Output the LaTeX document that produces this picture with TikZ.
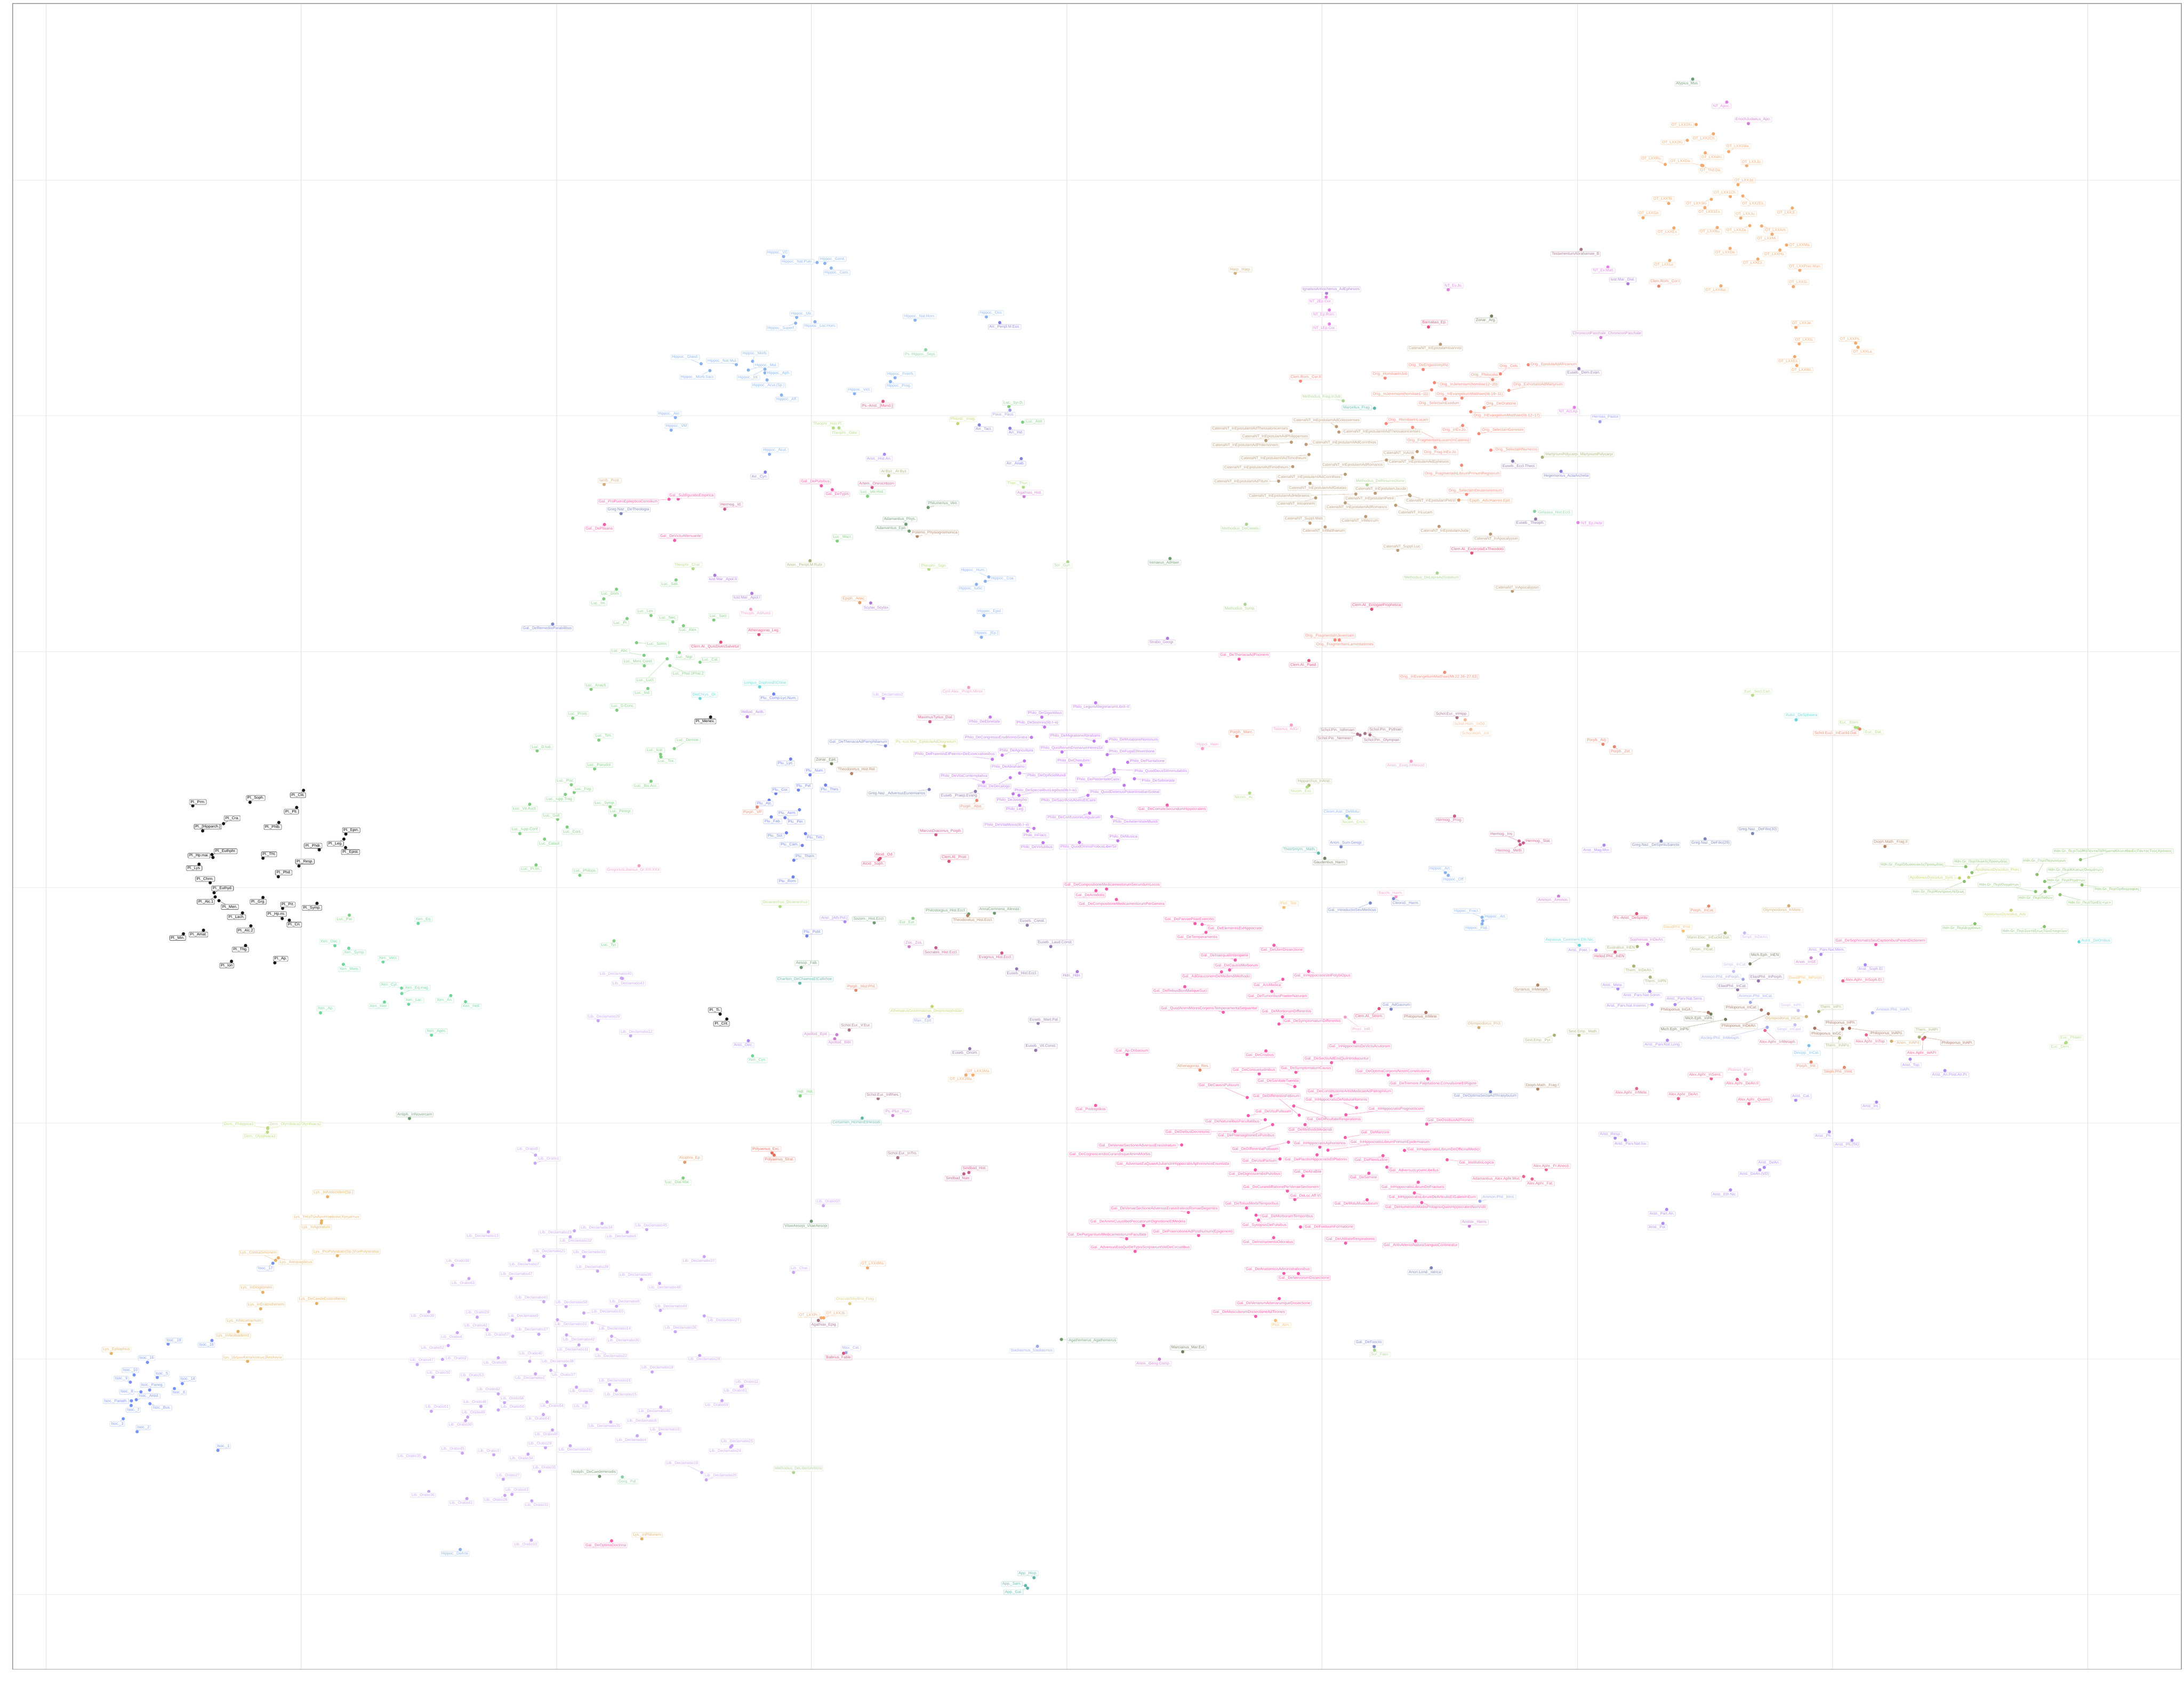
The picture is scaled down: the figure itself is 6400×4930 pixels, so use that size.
\documentclass[tikz,border=0pt]{standalone}
\usepackage{fontspec}
\setmainfont{Liberation Sans}
\newfontfamily\grk{DejaVu Sans}[Scale=0.88]
\newcommand\lblfont{\fontsize{2.8pt}{3pt}\selectfont}
\pgfdeclarelayer{bg}
\pgfsetlayers{bg,main}
% point colours
\definecolor{pl}{RGB}{0,0,0}
\definecolor{hip}{RGB}{125,170,235}
\definecolor{luc}{RGB}{115,200,115}
\definecolor{xen}{RGB}{95,210,145}
\definecolor{gal}{RGB}{240,75,160}
\definecolor{gals}{RGB}{110,125,200}
\definecolor{orig}{RGB}{240,125,105}
\definecolor{cat}{RGB}{180,145,105}
\definecolor{lxx}{RGB}{240,160,95}
\definecolor{nt}{RGB}{225,115,230}
\definecolor{philo}{RGB}{185,105,235}
\definecolor{plu}{RGB}{95,115,230}
\definecolor{lib}{RGB}{195,155,240}
\definecolor{isoc}{RGB}{105,135,245}
\definecolor{lys}{RGB}{225,170,85}
\definecolor{hdn}{RGB}{125,185,95}
\definecolor{apol}{RGB}{195,205,100}
\definecolor{arist}{RGB}{165,125,240}
\definecolor{alex}{RGB}{230,85,135}
\definecolor{philop}{RGB}{160,100,80}
\definecolor{olv}{RGB}{160,170,105}
\definecolor{dolv}{RGB}{100,115,80}
\definecolor{simp}{RGB}{195,180,245}
\definecolor{amm}{RGB}{150,160,230}
\definecolor{elias}{RGB}{135,100,160}
\definecolor{euseb}{RGB}{135,105,165}
\definecolor{tan}{RGB}{205,165,105}
\definecolor{gold}{RGB}{245,185,100}
\definecolor{salm}{RGB}{225,125,95}
\definecolor{crim}{RGB}{215,65,105}
\definecolor{dpink}{RGB}{195,75,130}
\definecolor{lpink}{RGB}{240,150,195}
\definecolor{mauve}{RGB}{160,100,125}
\definecolor{peach}{RGB}{245,180,140}
\definecolor{lgrn}{RGB}{165,205,135}
\definecolor{lime}{RGB}{170,215,120}
\definecolor{cyan}{RGB}{90,210,210}
\definecolor{teal}{RGB}{80,175,160}
\definecolor{dgrn}{RGB}{95,145,100}
\definecolor{brown}{RGB}{170,120,85}
\definecolor{purp}{RGB}{165,110,210}
\definecolor{greg}{RGB}{110,120,175}
\definecolor{arr}{RGB}{120,115,215}
\definecolor{mag}{RGB}{200,115,205}
\definecolor{sky}{RGB}{110,185,235}
\definecolor{yel}{RGB}{215,200,120}
\definecolor{red}{RGB}{225,95,75}
\definecolor{ora}{RGB}{225,145,90}
\definecolor{paus}{RGB}{145,145,235}
\definecolor{mint}{RGB}{125,205,155}
\definecolor{dem}{RGB}{180,215,110}
\tikzset{every picture/.style={line width=0.3pt},
  lbl/.style={draw=#1!55!white, text=#1!85!white, fill=white, rounded corners=0.5pt,
    line width=0.15pt, inner xsep=0.8pt, inner ysep=0.5pt, text height=2.1pt,
    text depth=0.55pt, font=\lblfont},
  dot/.style={circle, fill=#1!90!white, draw=none, minimum size=2.4pt, inner sep=0pt},
  seg/.style={draw=#1!65!white, line width=0.2pt},
  gridv/.style={draw=black!14, line width=0.3pt},
  gridh/.style={draw=black!9, line width=0.3pt},
  frame/.style={draw=black!38, line width=0.5pt}
}
% one labelled point per entry: dot x/dot y/label x/label y/colour/text
\newcommand\drawpts[3][]{%
  \foreach \dx/\dy/\lx/\ly/\c/\t [count=\k] in #3 {
    \node[dot=\c] (#2d\k) at (\dx,\dy) {};
    \node[lbl=\c,#1] (#2l\k) at (\lx,\ly) {\t};}
  \begin{pgfonlayer}{bg}
  \foreach \dx/\dy/\lx/\ly/\c/\t [count=\k] in #3 {\draw[seg=\c] (#2d\k) -- (#2l\k);}
  \end{pgfonlayer}}
\begin{document}
\begin{tikzpicture}[x=0.25pt,y=-0.25pt]
\useasboundingbox (0,0) rectangle (6400,4930);
%grid and panel
\foreach \gx in {135,883,1631,2378,3126,3874,4622,5370,6118} \draw[gridv] (\gx,10) -- (\gx,4890);
\foreach \gy in {528,1218,1909,2600,3290,3981,4671} \draw[gridh] (37,\gy) -- (6392,\gy);
\draw[frame] (37,10) rectangle (6392,4890);

%Plato cluster
\def\plato{
208/271/245/244/pl/{Pl.\_Prm.}, 619/246/660/215/pl/{Pl.\_Soph.}, 1003/160/963/195/pl/{Pl.\_Clit.},
954/283/916/313/pl/{Pl.\_Plt.}, 429/399/491/360/pl/{Pl.\_Cra.}, 279/451/316/421/pl/{Pl.\_[Hipparch.]},
826/391/782/424/pl/{Pl.\_Phlb.}, 1307/474/1346/446/pl/{Pl.\_Epin.}, 1293/510/1232/544/pl/{Pl.\_Leg.},
1305/571/1341/603/pl/{Pl.\_Epist.}, 1116/587/1072/558/pl/{Pl.\_Phdr.}, 346/621/444/597/pl/{Pl.\_Euthphr.},
353/642/253/629/pl/{Pl.\_Hp.mai.}, 712/647/756/619/pl/{Pl.\_Tht.}, 253/690/218/719/pl/{Pl.\_Lys.},
970/703/1013/671/pl/{Pl.\_Resp.}, 822/780/861/751/pl/{Pl.\_Phd.}, 333/823/297/796/pl/{Pl.\_Chrm.},
361/895/422/864/pl/{Pl.\_Euthyd.}, 369/925/302/960/pl/{Pl.\_Alc.1}, 396/952/474/997/pl/{Pl.\_Men.},
712/929/678/960/pl/{Pl.\_Grg.}, 853/1007/891/980/pl/{Pl.\_Prt.}, 1100/971/1064/1004/pl/{Pl.\_Symp.},
565/1040/522/1070/pl/{Pl.\_Lach.}, 850/1080/809/1048/pl/{Pl.\_Hp.mi.}, 901/1092/937/1124/pl/{Pl.\_Cri.},
625/1133/587/1166/pl/{Pl.\_Alc.2}, 285/1164/249/1195/pl/{Pl.\_Amat.}, 141/1190/100/1220/pl/{Pl.\_Min.},
587/1274/550/1303/pl/{Pl.\_Thg.}, 797/1398/839/1369/pl/{Pl.\_Ap.}, 486/1387/452/1418/pl/{Pl.\_Ion}}
\begin{scope}[shift={(480,2250)},xscale=0.40816,yscale=0.40816]
\drawpts[draw=black!75,text=black,line width=0.22pt]{z1}{\plato}
\end{scope}

%Xenophon, Lysias, Isocrates
\def\xenlys{
983/58/967/70/luc/{Luc.\_Par.}, 1236/81/1256/69/xen/{Xen.\_Eq.}, 930/143/910/132/xen/{Xen.\_Oec.},
981/150/1002/162/xen/{Xen.\_Symp.}, 1107/188/1126/178/xen/{Xen.\_Vect.}, 961/195/983/208/xen/{Xen.\_Mem.},
1175/261/1130/252/xen/{Xen.\_Cyr.}, 1176/276/1232/260/xen/{Xen.\_Eq.mag.}, 1201/306/1221/295/xen/{Xen.\_Lac.},
1356/282/1334/295/xen/{Xen.\_An.}, 1112/300/1091/311/xen/{Xen.\_Hier.}, 1410/299/1432/312/xen/{Xen.\_Hell.},
877/330/896/318/xen/{Xen.\_Ap.}, 1285/392/1304/381/xen/{Xen.\_Ages.}, 1204/624/1223/613/dgrn/{Antiph.\_InNovercam},
683/650/577/640/dem/{Dem.\_Philippica1}, 683/652/785/640/dem/{Dem.\_Olynthiaca1Olynthiaca2}, 682/662/654/674/dem/{Dem.\_Olynthiaca3},
903/842/925/830/lys/{Lys.\_InAndocidem[Sp.]}, 880/915/860/927/lys/{Lys.\_InAgoratum},
712/1019/649/998/lys/{Lys.\_ContraSimonem}, 722/1012/787/1024/lys/{Lys.\_Areopagiticus},
939/1006/972/995/lys/{Lys.\_ProPolystrato[Sp.]\textbackslash ForPolystratus}, 665/1108/642/1095/lys/{Lys.\_InDiogitonem},
657/1154/677/1142/lys/{Lys.\_InEratosthenem}, 863/1139/883/1127/lys/{Lys.\_DeCaedeEratosthenis},
615/1197/597/1187/lys/{Lys.\_InNicomachum}, 574/1217/555/1229/lys/{Lys.\_InAlcibiadem1},
108/1278/127/1267/lys/{Lys.\_Epitaphius},
702/1027/675/1042/isoc/{Isoc.\_17}, 317/1252/338/1242/isoc/{Isoc.\_19}, 478/1242/458/1254/isoc/{Isoc.\_18},
241/1303/238/1291/isoc/{Isoc.\_16}, 192/1338/178/1325/isoc/{Isoc.\_10}, 277/1345/294/1334/isoc/{Isoc.\_5},
178/1358/145/1348/isoc/{Isoc.\_9}, 369/1362/389/1349/isoc/{Isoc.\_14}, 249/1380/259/1366/isoc/{Isoc.\_Paneg.},
217/1385/165/1385/isoc/{Isoc.\_8}, 340/1376/357/1387/isoc/{Isoc.\_6}, 200/1407/247/1397/isoc/{Isoc.\_Antid.},
182/1410/125/1411/isoc/{Isoc.\_Panath.}, 181/1423/189/1435/isoc/{Isoc.\_7}, 250/1418/294/1430/isoc/{Isoc.\_Bus.},
152/1460/130/1474/isoc/{Isoc.\_3}, 203/1496/226/1484/isoc/{Isoc.\_2}, 500/1548/520/1536/isoc/{Isoc.\_1}}
\def\lysgrk{
881/909/900/898/lys/{Lys.\_ὙπὲρΤῶνἈριστοφάνουςΧρημάτων}, 609/1300/628/1289/lys/{Lys.\_[ΔήμουΚαταλύσεως]Ἀπολογία}}
\begin{scope}[shift={(240,2620)},xscale=0.7972,yscale=1.0523]
\drawpts{z12}{\xenlys}
\drawpts[font=\lblfont\grk]{z12g}{\lysgrk}
\end{scope}

%Hippocrates, Lucian (upper left)
\def\hippo{
790/64/773/50/hip/{Hippoc.\_VC}, 885/86/829/83/hip/{Hippoc.\_Nat.Puer.}, 907/89/929/73/hip/{Hippoc.\_Genit.},
925/106/941/123/hip/{Hippoc.\_Carn.}, 827/286/842/272/hip/{Hippoc.\_Ulc.}, 824/307/783/325/hip/{Hippoc.\_Superf.},
879/302/894/318/hip/{Hippoc.\_Loc.Hom.}, 1163/296/1176/282/hip/{Hippoc.\_Nat.Hom.}, 1365/284/1379/270/hip/{Hippoc.\_Oss.},
1403/305/1417/321/arr/{Arr.\_Peripl.M.Eux.}, 1193/404/1178/420/mint/{Ps.-Hippoc.\_Sept.}, 556/455/511/431/hip/{Hippoc.\_Gland.},
656/458/616/444/hip/{Hippoc.\_Nat.Mul.}, 702/446/709/418/hip/{Hippoc.\_Morb.}, 690/478/740/460/hip/{Hippoc.\_Mul.},
581/480/546/503/hip/{Hippoc.\_Morb.Sacr.}, 737/488/776/490/hip/{Hippoc.\_Aph.}, 737/475/690/505/hip/{Hippoc.\_Int.},
743/514/747/534/hip/{Hippoc.\_Acut.(Sp.)}, 784/569/799/585/hip/{Hippoc.\_Aff.}, 1106/506/1122/492/hip/{Hippoc.\_Prorrh.},
1093/520/1117/536/hip/{Hippoc.\_Prog.}, 991/564/1005/550/hip/{Hippoc.\_Vict.}, 1072/592/1056/608/crim/{Ps.-Arist.\_[Mund.]},
483/651/466/637/hip/{Hippoc.\_Aer.}, 471/697/486/682/hip/{Hippoc.\_VM}, 1429/611/1442/597/luc/{Luc.\_Syr.D.},
1432/624/1414/641/paus/{Paus.\_Paus.}, 1284/673/1299/657/apol/{Philostr.\_Imag.}, 1345/678/1358/693/arr/{Arr.\_Tact.},
1468/668/1502/666/luc/{Luc.\_Astr.}, 1432/690/1449/706/arr/{Arr.\_Ind.}, 931/689/915/674/lime/{Theophr.\_Hist.Pl.},
947/689/964/707/lime/{Theophr.\_Odor.}, 750/785/766/770/hip/{Hippoc.\_Acut.}, 1076/785/1061/801/arist/{Arist.\_Hist.An.},
1464/801/1448/819/arr/{Arr.\_Anab.}, 1088/863/1104/847/olv/{Ar.Byz.\_Ar.Byz.}, 738/850/722/866/arr/{Arr.\_Cyn.},
897/900/880/884/gal/{Gal.\_DePulsibus}, 928/914/942/931/gal/{Gal.\_DeTypis}, 1041/906/1054/892/dpink/{Artem.\_Onirocriticon},
1028/938/1042/922/luc/{Luc.\_Ver.Hist.}, 1470/905/1455/891/lime/{Thuc.\_Thuc.}, 1472/939/1488/925/mag/{Agathias\_Hist.},
281/895/297/881/tan/{Iamb.\_Protr.}, 491/948/529/936/gal/{Gal.\_SubfiguratioEmpirica}, 465/949/349/958/gal/{Gal.\_ProPueroEpilepticoConsilium},
623/985/641/968/dpink/{Hermog.\_Id.}, 329/1001/350/987/greg/{Greg.Naz.\_DeTheologia}, 1200/979/1242/964/dgrn/{Philumenus\_Ven.},
1137/1040/1120/1022/dgrn/{Adamantius\_Phys.}, 1146/1065/1096/1055/dgrn/{Adamantius\_Epit.}, 1169/1084/1219/1071/brown/{Polemo\_Physiognomonica},
282/1041/267/1057/gal/{Gal.\_DePtisana}, 481/1099/498/1083/gal/{Gal.\_DeVictuAttenuante}, 942/1101/957/1087/luc/{Luc.\_Macr.},
533/1202/518/1188/lime/{Theophr.\_Char.}, 865/1173/851/1188/olv/{Anon.\_Peripl.M.Rubr.}, 1202/1204/1216/1191/lime/{Theophr.\_Sign.},
1372/1232/1328/1208/hip/{Hippoc.\_Hum.}, 1362/1248/1412/1238/hip/{Hippoc.\_Coa.}, 1337/1259/1322/1275/hip/{Hippoc.\_Iudic.},
485/1243/468/1258/luc/{Luc.\_Salt.}, 595/1226/618/1241/purp/{Iust.Mar.\_Apol.II}, 700/1292/686/1308/purp/{Iust.Mar.\_Apol.I},
316/1277/299/1294/luc/{Luc.\_Dom.}, 280/1312/265/1328/luc/{Luc.\_Im.}, 1006/1326/990/1311/ora/{Epiph.\_Anac.},
1037/1327/1052/1344/purp/{Scylax\_Scylax}, 414/1373/399/1357/luc/{Luc.\_Lex.}, 476/1396/462/1381/luc/{Luc.\_Nec.},
592/1389/606/1375/luc/{Luc.\_Sacr.}, 697/1350/712/1366/lpink/{Theoph.\_AdAutol.}, 1358/1373/1375/1357/hip/{Hippoc.\_Epid.},
135/1404/120/1420/gals/{Gal.\_DeRemediisParabilibus}, 346/1384/328/1400/luc/{Luc.\_Pr.}, 506/1410/520/1426/luc/{Luc.\_Alex.},
720/1442/734/1428/crim/{Athenagoras\_Leg.}, 1351/1452/1366/1437/hip/{Hippoc.\_[Ep.]}, 373/1472/432/1477/luc/{Luc.\_Somn.},
612/1470/596/1487/crim/{Clem.Al.\_QuisDivesSalvetur}, 394/1518/326/1503/luc/{Luc.\_Abc.}, 395/1556/378/1540/luc/{Luc.\_Merc.Cond.},
494/1508/510/1524/luc/{Luc.\_Nigr.}, 553/1543/582/1534/luc/{Luc.\_Cal.}}
\begin{scope}[shift={(1480,700)},xscale=1.0332,yscale=0.8036]
\drawpts{z4}{\hippo}
\end{scope}

%Catenae, Origen, NT (upper middle)
\def\catena{
1484/38/1468/55/mauve/{TestamentumAbrahamae\_B}, 503/125/518/111/tan/{Harp.\_Harp.}, 762/198/775/184/purp/{IgnatiusAntiochenus\_AdEphesios},
761/212/745/228/nt/{NT\_2Ep.Cor.}, 1107/185/1122/170/nt/{NT\_Ev.Jo.}, 770/259/755/276/nt/{NT\_Ep.Rom.},
770/310/756/325/nt/{NT\_1Ep.Cor.}, 1051/321/1068/305/crim/{Barnabas\_Ep.}, 1230/281/1214/297/dolv/{Zonar.\_Arg.},
1085/384/1070/399/cat/{CatenaNT\_InEpistulamIoannisI}, 1036/476/1051/461/orig/{Orig.\_DeEngastrimytho}, 1255/492/1280/463/orig/{Orig.\_Cels.},
928/507/942/493/orig/{Orig.\_HomiliaeInJob}, 1233/513/1210/495/orig/{Orig.\_Philocalia}, 688/518/703/504/orig/{Clem.Rom.\_Cor.II},
1068/524/1165/530/orig/{Orig.\_InJeremiam(homiliae12–20)}, 1279/552/1362/531/orig/{Orig.\_ExhortatioAdMartyrium},
1060/550/972/565/orig/{Orig.\_InJeremiam(homiliae1–11)}, 1146/580/1168/565/orig/{Orig.\_InEvangeliumMatthaei(lib.10–11)},
1098/583/1081/599/orig/{Orig.\_SelectaInExodum}, 1209/615/1257/600/orig/{Orig.\_DeOratione}, 809/590/748/576/lgrn/{Methodius\_Frag.InJob},
898/617/848/615/teal/{Marcellus\_Frag.}, 1171/630/1273/643/orig/{Orig.\_InEvangeliumMatthaei(lib.12–17)},
790/684/762/661/cat/{CatenaNT\_InEpistulamAdColossenses}, 931/673/994/659/orig/{Orig.\_HomiliaeInLucam},
797/704/919/703/cat/{CatenaNT\_InEpistulamIIAdThessalonicenses}, 661/700/545/692/cat/{CatenaNT\_InEpistulamIAdThessalonicenses},
590/735/616/720/cat/{CatenaNT\_InEpistulamAdPhilippenses}, 662/741/532/752/cat/{CatenaNT\_InEpistulamAdPhilemonem},
704/749/813/742/cat/{CatenaNT\_InEpistulamIIAdCorinthios}, 1006/687/1079/734/orig/{Orig.\_FragmentaInLucam(inCatenis)},
1148/680/1125/696/orig/{Orig.\_InEv.Jo.}, 1194/710/1262/696/orig/{Orig.\_SelectaInGenesim}, 1070/760/1085/777/orig/{Orig.\_Frag.InEv.Jo.},
1228/770/1300/768/orig/{Orig.\_SelectaInNumeros}, 1019/775/967/781/cat/{CatenaNT\_InActs},
712/786/612/800/cat/{CatenaNT\_InEpistulamIIAdTimotheum}, 666/830/563/833/cat/{CatenaNT\_InEpistulamIAdTimotheum},
932/806/836/823/cat/{CatenaNT\_InEpistulamAdRomanos}, 1006/797/1024/813/cat/{CatenaNT\_InEpistulamAdEphesios},
1145/825/1147/855/orig/{Orig.\_FragmentaInLibrumPrimumRegnorum}, 1290/810/1308/828/euseb/{Euseb.\_Eccl.Theol.},
1427/847/1442/864/arr/{Hegemonius\_ActaArchelai}, 815/858/713/869/cat/{CatenaNT\_InEpistulamIAdCorinthios},
626/883/520/884/cat/{CatenaNT\_InEpistulamAdTitum}, 877/896/914/882/lgrn/{Methodius\_DeResurrectione},
715/891/737/908/cat/{CatenaNT\_InEpistulamAdGalatas}, 900/927/916/912/cat/{CatenaNT\_InEpistulamJacobi},
845/930/628/937/cat/{CatenaNT\_InEpistulamAdHebraeos}, 997/933/884/947/cat/{CatenaNT\_InEpistulamPetriI},
999/936/1058/955/cat/{CatenaNT\_InEpistulamPetriII}, 1159/931/1184/917/orig/{Orig.\_SelectaInDeuteronomium},
1137/952/1226/954/ora/{Epiph.\_Adv.Haeres.Epit.}, 731/944/676/966/cat/{CatenaNT\_InIoannem},
815/962/848/978/cat/{CatenaNT\_InEpistulamAdRomanos}, 958/971/1014/998/cat/{CatenaNT\_InLucam},
1352/993/1409/997/mint/{Gelasius\_Hist.Eccl.}, 1355/1021/1340/1036/euseb/{Euseb.\_Theoph.}, 1475/1034/1515/1037/nt/{NT\_Ep.Hebr},
715/1036/699/1020/cat/{CatenaNT\_Suppl.Matt.}, 873/1012/857/1028/cat/{CatenaNT\_InMarcum}, 535/1040/518/1056/lgrn/{Methodius\_DeCreatis},
758/1050/754/1065/cat/{CatenaNT\_InMatthaeum}, 1081/1048/1097/1065/cat/{CatenaNT\_InEpistulamJuda},
1227/1076/1243/1093/cat/{CatenaNT\_InApocalypsin}, 964/1135/977/1121/cat/{CatenaNT\_Suppl.Luc.},
1174/1145/1190/1131/crim/{Clem.Al.\_ExcerptaExTheodoto}, 318/1165/303/1180/dgrn/{Irenaeus\_AdHaer.},
1076/1218/1060/1234/lgrn/{Methodius\_DeLepraAdSistelium}, 1289/1284/1303/1271/cat/{CatenaNT\_InApocalypsin},
531/1332/517/1348/lgrn/{Methodius\_Symp.}, 890/1350/904/1335/crim/{Clem.Al.\_EclogaeProphetica}, 311/1456/295/1471/purp/{Strabo\_Geogr.},
786/1462/771/1446/orig/{Orig.\_FragmentaInJeremiam}, 798/1462/814/1479/orig/{Orig.\_FragmentaInLamentationes},
514/1532/529/1517/gal/{Gal.\_DeTheriacaAdPisonem}, 712/1537/697/1553/crim/{Clem.Al.\_Paed.}}
\begin{scope}[shift={(3100,700)},xscale=1.0332,yscale=0.8036]
\drawpts{z5}{\catena}
\end{scope}

%Septuagint (top right)
\def\septa{
314/183/284/213/dgrn/{Alypius\_Mus.}, 510/334/480/360/nt/{NT\_Apoc.}, 634/475/662/448/mag/{EnochJudaeus\_Apo.},
334/481/253/484/lxx/{OT\_LXX1Ki.}, 433/542/380/573/lxx/{OT\_LXX2Ch.}, 283/585/200/598/lxx/{OT\_LXX2Ki.},
521/659/575/624/lxx/{OT\_LXX1Ma.}, 386/667/425/696/lxx/{OT\_LXX4Ki.}, 156/743/78/705/lxx/{OT\_LXXRu.},
366/749/245/721/lxx/{OT\_LXXDa.}, 372/751/418/783/lxx/{OT\_Thd.Da.}, 624/751/653/727/lxx/{OT\_LXXJo.},
574/876/610/847/lxx/{OT\_LXXJd.}, 530/954/501/929/lxx/{OT\_LXX1Ch.}, 176/999/145/969/lxx/{OT\_LXXTo.},
421/972/338/1000/lxx/{OT\_LXX3Ki.}, 602/950/662/1000/lxx/{OT\_LXX2Es.}, 384/1027/412/1056/lxx/{OT\_LXX1Es.},
29/1093/64/1063/lxx/{OT\_LXXGe.}, 590/1095/618/1068/lxx/{OT\_LXXJu.}, 886/1029/852/1061/lxx/{OT\_LXXJl.},
206/1160/171/1188/lxx/{OT\_LXXEx.}, 455/1157/415/1184/lxx/{OT\_LXXNu.}, 642/1145/567/1174/lxx/{OT\_LXXZa.},
710/1147/792/1176/lxx/{OT\_LXXAm.}, 770/1201/741/1229/lxx/{OT\_LXXMi.}, 853/1272/930/1272/lxx/{OT\_LXXMa.},
529/1294/503/1321/lxx/{OT\_LXXDe.}, 815/1305/785/1333/lxx/{OT\_LXXHo.}, 688/1364/661/1391/lxx/{OT\_LXXEz.},
929/1438/960/1413/lxx/{OT\_LXXPrec.Man.}, 182/1373/152/1402/lxx/{OT\_LXXLe.}, 119/1542/155/1512/salm/{Clem.Rom.\_Cor.I},
892/1545/922/1516/lxx/{OT\_LXXSi.}}
\begin{scope}[shift={(4800,150)},xscale=0.5102,yscale=0.4464]
\drawpts{z2}{\septa}
\end{scope}
\def\septb{
349/3/335/17/nt/{NT\_Ev.Matt.}, 415/67/398/52/purp/{Iust.Mar.\_Dial.}, 720/75/705/91/lxx/{OT\_LXXBar.},
966/234/986/219/lxx/{OT\_LXXJe.}, 977/297/994/282/lxx/{OT\_LXXIs.}, 1162/294/1144/278/lxx/{OT\_LXXPs.},
1170/310/1186/327/lxx/{OT\_LXXLa.}, 962/346/942/364/lxx/{OT\_LXXEs.}, 969/380/985/397/lxx/{OT\_LXXWi.},
326/273/346/257/mag/{ChroniconPaschale\_ChroniconPaschale}, 88/377/171/376/orig/{Orig.\_EpistulaAdAfricanum},
254/392/270/408/euseb/{Euseb.\_Dem.Evan.}, 239/540/221/557/nt/{NT\_Act.Ap.}, 323/595/341/577/paus/{Hermas\_Pastor},
134/731/255/720/olv/{MartyriumPolycarpi\_MartyriumPolycarpi}}
\begin{scope}[shift={(4400,780)},xscale=0.8929,yscale=0.7653]
\drawpts{z6}{\septb}
\end{scope}

%Lucian, Plutarch, Philo (middle left)
\def\platob{583/175/568/191/pl/{Pl.\_Menex.}, 610/1258/595/1243/pl/{Pl.\_Ti.}, 629/1276/614/1293/pl/{Pl.\_Crit.}}
\def\lucian{
244/74/259/60/luc/{Luc.\_Anach.}, 405/71/390/88/luc/{Luc.\_Ind.}, 317/150/334/135/luc/{Luc.\_D.Conc.},
192/179/207/164/luc/{Luc.\_Prom.}, 266/259/280/244/luc/{Luc.\_Tim.}, 91/298/104/284/luc/{Luc.\_D.Iud.},
480/290/519/260/luc/{Luc.\_Demon.}, 441/311/426/296/luc/{Luc.\_Icar.}, 442/320/458/336/luc/{Luc.\_Tox.},
254/364/268/350/luc/{Luc.\_Pseudol.}, 188/422/172/407/luc/{Luc.\_Pisc.}, 196/450/222/437/luc/{Luc.\_Fug.},
414/409/400/426/luc/{Luc.\_Bis.Acc.}, 171/457/155/474/luc/{Luc.\_Iupp.Trag.}, 298/502/283/488/luc/{Luc.\_Symp.},
70/493/56/509/luc/{Luc.\_Vit.Auct.}, 312/534/328/519/luc/{Luc.\_Peregr.}, 149/548/133/535/luc/{Luc.\_Gall.},
42/600/57/585/luc/{Luc.\_Iupp.Conf.}, 176/576/191/593/luc/{Luc.\_Cont.}, 112/620/127/637/luc/{Luc.\_Catapl.},
88/714/73/729/luc/{Luc.\_Pr.Im.}, 212/752/227/735/luc/{Luc.\_Philops.}, 309/991/295/1007/luc/{Luc.\_Tyr.},
722/65/738/50/cyan/{Longus\_DaphnisEtChloe}, 553/107/566/93/cyan/{DioChrys.\_Or.}, 762/91/776/106/plu/{Plu.\_Comp.Lyc.Num.},
687/174/703/158/purp/{Heliod.\_Aeth.}, 1073/107/1087/93/lib/{Lib.\_Declamatio2}, 1315/67/1299/83/lpink/{Cyril.Alex.\_Proph.Minor.},
1205/192/1221/177/dpink/{MaximusTyrius\_Dial.}, 1376/175/1360/192/philo/{Philo\_DeEbrietate},
1079/280/1002/266/gals/{Gal.\_DeTheriacaAdPamphilianum}, 1246/281/1194/266/apol/{Ps.-Iust.Mar.\_EpistulaAdDiognetum},
1493/249/1393/249/philo/{Philo\_DeCongressuEruditionisGratia}, 1382/329/1276/311/philo/{Philo\_DePraemiisEtPoenis+DeExsecrationibus},
1410/314/1450/298/philo/{Philo\_DeAgricultura}, 926/345/911/331/dolv/{Zonar.\_Epit.}, 810/328/796/344/plu/{Plu.\_Lyc.},
865/386/879/371/plu/{Plu.\_Num.}, 983/381/998/366/brown/{Theodoretus\_Hist.Rel.}, 1473/335/1427/356/philo/{Philo\_DeAbrahamo},
1357/412/1302/390/philo/{Philo\_DeVitaContemplativa}, 1433/396/1387/428/philo/{Philo\_DeDecalogo}, 768/454/781/441/plu/{Plu.\_Cor.},
832/441/848/427/plu/{Plu.\_Pel.}, 909/423/922/439/plu/{Plu.\_Thes.}, 1203/439/1111/453/greg/{Greg.Naz.\_AdversusEunomianos},
1334/446/1289/462/euseb/{Euseb.\_Praep.Evang.}, 1338/479/1323/501/salm/{Porph.\_Abst.}, 1441/455/1438/478/philo/{Philo\_DeJosepho},
1460/497/1447/511/philo/{Philo\_Leg.}, 1500/581/1423/568/philo/{Philo\_DeVitaMosis(lib.I–ii)}, 1482/590/1505/606/philo/{Philo\_InFlacc.},
1526/633/1508/650/philo/{Philo\_DeVirtutibus}, 749/478/736/490/plu/{Plu.\_Alc.}, 715/503/702/522/salm/{Porph.\_VP},
835/513/801/525/plu/{Plu.\_Aem.}, 755/539/759/555/plu/{Plu.\_Fab.}, 794/542/825/557/plu/{Plu.\_Per.},
798/597/767/608/plu/{Plu.\_Sol.}, 852/600/879/615/plu/{Plu.\_Tim.}, 843/643/807/640/plu/{Plu.\_Cam.},
819/697/852/683/plu/{Plu.\_Them.}, 817/758/802/773/plu/{Plu.\_Rom.}, 1222/604/1236/590/dpink/{MarcusDiaconus\_Porph.},
1064/690/1076/676/crim/{Alcid.\_Od.}, 1060/695/1045/710/crim/{Alcid.\_Soph.}, 1259/701/1275/686/crim/{Clem.Al.\_Protr.},
380/717/364/733/lpink/{GregoriusLibanius\_Or.XIII-XXX}, 780/866/795/851/lime/{Dicaearchus\_Dicaearchus},
1315/893/1250/881/dgrn/{Philostorgius\_Hist.Eccl.}, 1388/890/1402/876/dgrn/{AnnaComnena\_Alexias},
1312/899/1327/916/brown/{Theodoretus\_Hist.Eccl.}, 964/921/934/907/arist/{Arist.\_[Ath.Pol.]}, 1047/925/1032/911/dgrn/{Sozom.\_Hist.Eccl.},
1157/909/1141/923/luc/{Eur.\_Eur.}, 1481/934/1496/919/euseb/{Euseb.\_Const.}, 856/973/872/958/plu/{Plu.\_Publ.},
1146/1012/1160/998/mag/{Zos.\_Zos.}, 1222/1016/1237/1033/dpink/{Socrates\_Hist.Eccl.}, 1409/1035/1391/1051/dpink/{Evagrius\_Hist.Eccl.},
840/1088/856/1072/dgrn/{Aesop.\_Fab.}, 330/1127/314/1111/lib/{Lib.\_Declamatio40}, 333/1128/350/1146/lib/{Lib.\_Declamatio43},
1451/1093/1466/1110/euseb/{Euseb.\_Hist.Eccl.}, 836/1145/850/1131/teal/{Chariton\_DeChaereaEtCallirhoe}, 995/1171/1011/1157/salm/{Porph.\_Hist.Phil.},
1211/1230/1195/1247/apol/{AthenaeusGrammaticus\_Deipnosophistae}, 264/1282/281/1267/lib/{Lib.\_Declamatio29}, 1202/1266/1186/1282/amm/{Max.\_Epit.},
976/1316/995/1300/mauve/{Schol.Eur.\_V.Eur.}, 356/1337/373/1323/lib/{Lib.\_Declamatio12}, 941/1333/882/1332/mag/{Apollod.\_Epit.},
935/1348/950/1362/mag/{Apollod.\_Bibl.}, 690/1355/676/1371/arist/{Arist.\_Oec.}, 1505/1390/1520/1375/euseb/{Euseb.\_Vit.Const.},
1318/1384/1305/1400/euseb/{Euseb.\_Onom.}, 702/1410/716/1426/xen/{Xen.\_Cyn.}, 1327/1480/1343/1466/lxx/{OT\_LXX3Ma.},
1307/1480/1294/1496/lxx/{OT\_LXX2Ma.}, 837/1556/852/1541/luc/{Hdt.\_Hdt.}, 1058/1566/1072/1553/mauve/{Schol.Eur.\_InRhes.}}
\begin{scope}[shift={(1480,1960)},xscale=1.0332,yscale=0.8036]
\drawpts[draw=black!75,text=black,line width=0.22pt]{z7p}{\platob}
\drawpts{z7}{\lucian}
\end{scope}

%Galen, Philo, scholia (middle)
\def\galena{
1097/12/1081/28/orig/{Orig.\_InEvangeliumMatthaei(Mt.22.34–27.63)}, 107/123/123/139/philo/{Philo\_LegumAllegoriarumLibriI–II},
138/264/214/258/philo/{Philo\_DeMutationeNominum}, 140/312/210/300/philo/{Philo\_DeFugaEtInventione},
198/340/254/335/philo/{Philo\_DePlantatione}, 159/366/292/373/philo/{Philo\_QuodDeusSitImmutabilis},
160/377/114/402/philo/{Philo\_DePosteritateCaini}, 217/400/285/408/philo/{Philo\_DeSobrietate},
188/424/190/449/philo/{Philo\_QuodDeteriusPotioriInsidiariSoleat}, 153/538/220/557/philo/{Philo\_DeAeternitateMundi},
170/626/186/612/philo/{Philo\_DeMusica}, 61/632/87/648/philo/{Philo\_QuodOmnisProbusLiberSit},
508/245/521/231/salm/{Porph.\_Marc.}, 662/204/648/220/lpink/{Tatianus\_AdGr.}, 410/290/426/275/lpink/{Hippol.\_Haer.},
850/237/793/223/mauve/{Schol.Pin.\_Isthmian}, 871/235/929/221/mauve/{Schol.Pin.\_Pythian}, 857/241/785/253/mauve/{Schol.Pin.\_Nemean},
885/240/918/259/mauve/{Schol.Pin.\_Olympian}, 1132/177/1117/163/mauve/{Schol.Eur.\_InHipp.}, 1155/185/1169/200/peach/{Schol.Hom.\_InOd.},
1171/220/1186/235/peach/{Schol.Hom.\_InIl.}, 1546/274/1529/260/salm/{Porph.\_Adj.}, 1002/336/988/352/lpink/{Anon.\_Exeg.InHesiod.},
712/424/727/409/olv/{Hipparchus\_InArat.}, 707/430/691/445/lime/{Nicom.\_Exc.}, 544/452/528/468/lime/{Nicom.\_Ar.},
310/496/324/511/gal/{Gal.\_DeComateSecundumHippocratem}, 820/536/804/521/hip/{Cleom.Astr.\_DeMotu}, 826/543/841/558/lime/{Nicom.\_Ench.},
1125/536/1110/551/dpink/{Hermog.\_Prog.}, 1308/627/1259/601/dpink/{Hermog.\_Inv.}, 1320/634/1363/628/dpink/{Hermog.\_Stat.},
1311/640/1281/662/dpink/{Hermog.\_Meth.}, 803/648/818/633/gals/{Anon.\_Sum.Geogr.}, 739/671/685/658/teal/{TheoSmyrn.\_Math.},
757/690/771/705/dolv/{Gaudentius\_Harm.}, 1549/642/1528/660/arist/{Arist.\_Mag.Mor.}, 1099/742/1084/728/hip/{Hippoc.\_Art.},
1107/752/1123/768/hip/{Hippoc.\_Off.}, 138/802/154/787/gal/{Gal.\_DeCompositioneMedicamentorumSecundumLocos},
108/808/91/824/gal/{Gal.\_DeAntidotis}, 166/840/181/856/gal/{Gal.\_DeCompositioneMedicamentorumPerGenera},
641/869/655/855/gold/{Ptol.\_Tetr.}, 959/830/944/816/lpink/{Bacch.\_Harm.}, 886/853/835/879/gals/{Gal.\_IntroductioSeuMedicus},
952/837/987/853/gals/{Cleonid.\_Harm.}, 1420/828/1405/842/mag/{Ammon.\_Ammon.}, 1203/905/1159/882/hip/{Hippoc.\_Fract.},
1205/918/1241/903/hip/{Hippoc.\_Art.}, 1203/929/1188/944/hip/{Hippoc.\_Flat.}, 389/928/373/912/gal/{Gal.\_DeParvaePilaeExercitio},
409/931/502/945/gal/{Gal.\_DeElementisExHippocrate}, 420/960/396/977/gal/{Gal.\_DeTemperamentis},
613/1007/635/1024/gal/{Gal.\_DeUteriDissectione}, 1479/1007/1452/987/cyan/{Aspasius\_Comment.Eth.Nic.},
1526/1025/1476/1025/arist/{Arist.\_Poet.}, 55/1103/40/1118/purp/{Hdn.\_Hdn.}, 503/1061/473/1045/gal/{Gal.\_DeInaequaliIntemperie},
487/1097/507/1081/gal/{Gal.\_DeCausisMorborum}, 464/1104/449/1121/gal/{Gal.\_AdGlauconemDeMedendiMethodo},
711/1102/750/1118/gal/{Gal.\_InHippocratisVelPolybiOpus}, 638/1131/594/1153/gal/{Gal.\_ArsMedica},
360/1158/347/1173/gal/{Gal.\_DeRebusBoniMaliqueSuci}, 607/1175/623/1192/gal/{Gal.\_DeTumoribusPraeterNaturam},
1361/1152/1344/1168/brown/{Syrianus\_InMetaph.}, 469/1251/429/1237/gal/{Gal.\_QuodAnimiMoresCorporisTemperamentaSequantur},
637/1268/649/1248/gal/{Gal.\_DeMorborumDifferentiis}, 627/1294/722/1284/gal/{Gal.\_DeSymptomatumDifferentiis},
945/1240/960/1225/gals/{Gal.\_AdGaurum}, 911/1238/883/1266/crim/{Clem.Al.\_Strom.}, 1044/1252/1030/1268/philop/{Philoponus\_InMete.},
815/1269/862/1313/lpink/{Procl.\_InR.}, 1194/1307/1210/1293/tan/{Olympiodorus\_Prcl.}, 1478/1335/1490/1321/olv/{Sext.Emp.\_Math.},
1408/1335/1362/1353/olv/{Sext.Emp.\_Pyr.}, 196/1405/210/1391/gal/{Gal.\_Ap.Oribasium},
841/1360/856/1376/gal/{Gal.\_InHippocratisDeVictuAcutorum}, 590/1392/573/1407/gal/{Gal.\_DeCrisibus},
776/1435/791/1420/gal/{Gal.\_DeSectisAdEosQuiIntroducuntur}, 403/1462/384/1447/salm/{Athenagoras\_Res.},
571/1476/556/1462/gal/{Gal.\_DeConsuetudinibus}, 675/1470/704/1456/gal/{Gal.\_DeSymptomatumCausis},
937/1480/951/1466/gal/{Gal.\_DeOptimaCorporisNostriConstitutione}, 672/1522/625/1502/gal/{Gal.\_DeSanitateTuenda},
1049/1494/1065/1511/gal/{Gal.\_DeTremore,Palpitatione,ConvulsioneEtRigore}, 1361/1531/1374/1517/brown/{Dioph.Math.\_Frag.I},
537/1562/457/1518/gal/{Gal.\_DeCausisPulsuum}, 775/1556/827/1540/gal/{Gal.\_DeConstitutioneArtisMedicaeAdPatrophilum},
1227/1541/1212/1556/gals/{Gal.\_DeOptimaSectaAdThrasybulum}}
\begin{scope}[shift={(3100,1960)},xscale=1.0332,yscale=0.8036]
\drawpts{z8}{\galena}
\end{scope}

%Galen (lower middle)
\def\galenb{
107/23/94/38/gal/{Gal.\_Protreptikos}, 540/60/611/46/gal/{Gal.\_DeUsuPulsuum}, 588/75/495/82/gal/{Gal.\_DeNaturalibusFacultatibus},
847/31/790/3/gal/{Gal.\_InHippocratisDeNaturaHominis}, 817/57/959/35/gal/{Gal.\_InHippocratisPrognosticum},
669/25/783/74/gal/{Gal.\_DeDifficultateRespirationis}, 1046/91/1112/77/gal/{Gal.\_DeOssibusAdTirones},
502/117/368/120/gal/{Gal.\_DeDiebusDecretoriis}, 609/93/534/133/gal/{Gal.\_DePraesagitioneExPulsibus},
701/93/716/112/gal/{Gal.\_DeMethodoMedendi}, 815/140/900/122/gal/{Gal.\_DeMarcore}, 743/175/743/161/gal/{Gal.\_InHippocratisAphorismos},
766/186/942/156/gal/{Gal.\_InHippocratisLibrumPrimumEpidemiarum}, 351/167/226/169/gal/{Gal.\_DeVenaeSectioneAdversusErasistratum},
182/186/148/201/gal/{Gal.\_DeCognoscendisCurandisqueAnimiMorbis}, 654/157/560/183/gal/{Gal.\_DeDifferentiaPulsuum},
983/187/1094/184/gal/{Gal.\_InHippocratisLibrumDeOfficinaMedici}, 630/218/572/225/gal/{Gal.\_DeUsuPartium},
735/203/732/220/gal/{Gal.\_DePlacitisHippocratisEtPlatonis}, 922/206/889/222/gal/{Gal.\_DePlenitudine},
1104/221/1187/232/gal/{Gal.\_InstitutioLogica}, 1385/257/1400/244/alex/{Alex.Aphr.\_Pr.Anecd.},
311/252/326/237/gal/{Gal.\_AdversusEaQuaeAJulianoInHippocratisAphorismosEnuntiata}, 933/248/1010/260/gal/{Gal.\_AdversusLycumLibellus},
560/258/558/273/gal/{Gal.\_DeDignoscendisPulsibus}, 695/280/709/265/gal/{Gal.\_DeAtraBile}, 882/270/867/286/gal/{Gal.\_DeSemine},
1321/282/1244/291/alex/{Adamantius\_Alex.Aphr.Mixt.}, 1345/291/1368/308/alex/{Alex.Aphr.\_Fat.},
651/335/633/321/gal/{Gal.\_DeCurandiRationePerVenaeSectionem}, 1022/303/1007/320/gal/{Gal.\_InHippocratisLibrumDeFracturis},
672/366/702/352/gal/{Gal.\_DeLoc.Aff.VI}, 1011/342/1062/358/gal/{Gal.\_InHippocratisLibrumDeArticulisEtGaleniInEum},
1197/372/1250/357/amm/{Ammon.Phil.\_InInt.}, 535/397/550/381/gal/{Gal.\_DeTotiusMorbiTemporibus},
877/367/846/382/gal/{Gal.\_DeMotuMusculorum}, 1032/377/1071/394/gal/{Gal.\_DeHumeroIisModisProlapsoQuosHippocratesNonVidit},
370/413/302/399/gal/{Gal.\_DeVenaeSectioneAdversusErasistrateosRomaeDegentes}, 562/423/651/428/gal/{Gal.\_DeMorborumTemporibus},
243/461/227/446/gal/{Gal.\_DeAnimiCuiuslibetPeccatorumDignotioneEtMedela}, 569/441/586/459/gal/{Gal.\_SynopsisDePulsibus},
688/466/769/466/gal/{Gal.\_DeFoetuumFormatione}, 1167/463/1182/449/mag/{Aristox.\_Harm.},
195/509/140/494/gal/{Gal.\_DePurgantiumMedicamentorumFacultate}, 399/497/383/483/gal/{Gal.\_DePraenotioneAdPosthumum(Epigenem)},
612/505/596/521/gal/{Gal.\_DeInstrumentoOdoratus}, 816/525/830/510/gal/{Gal.\_DeUtilitateRespirationis},
1014/517/1029/533/gal/{Gal.\_AnInArteriisNaturaSanguisContineatur},
219/555/234/540/gal/{Gal.\_AdversusEosQuiDeTypisScripseruntVelDeCircuitibus}, 641/635/624/621/gal/{Gal.\_DeAnatomicisAdministrationibus},
682/636/698/652/gal/{Gal.\_DeNervorumDissectione}, 1059/615/1041/631/greg/{Anon.Lond.\_Iatrica},
628/727/612/744/gal/{Gal.\_DeVenarumArteriarumqueDissectione}, 561/792/542/777/gal/{Gal.\_DeMusculorumDissectioneAdTirones},
617/807/633/824/gold/{Ptol.\_Alm.}, 10/876/98/880/dgrn/{Agathemerus\_Agathemerus}, 897/902/882/887/gals/{Gal.\_DeFasciis},
898/915/914/931/lgrn/{Sor.\_Fasc.}, 354/921/370/906/dolv/{Marcianus\_Mar.Ext.}, 288/948/271/964/mag/{Anon.\_Geog.Comp.}}
\begin{scope}[shift={(3100,3220)},xscale=1.0332,yscale=0.8036]
\drawpts{z10}{\galenb}
\end{scope}

%Aristotle commentators, Herodian (right)
\def\aristo{
388/83/402/71/lime/{Euc.\_Sect.Can.}, 507/161/522/147/cyan/{Autol.\_DeSphaera}, 669/185/653/170/lime/{Euc.\_Elem.},
676/186/719/200/lime/{Euc.\_Dat.}, 681/190/616/203/salm/{Schol.Eucl.\_InEuclid.Dat.}, 10/246/28/262/salm/{Porph.\_Zet.},
388/521/402/508/greg/{Greg.Naz.\_DeFilio(30)}, 258/538/273/551/greg/{Greg.Naz.\_DeFilio(29)}, 138/545/123/558/greg/{Greg.Naz.\_DeSpirituSancto},
750/562/766/548/brown/{Dioph.Math.\_Frag.II}, 1095/764/1080/777/apol/{ApolloniusDyscolus\_Adv.},
979/660/1058/637/apol/{ApolloniusDyscolus\_Pron.}, 954/662/878/661/apol/{ApolloniusDyscolus\_Synt.},
1281/864/1327/860/cyan/{Autol.\_DeOrtibus}, 268/751/251/765/salm/{Porph.\_InCat.}, 487/750/470/764/tan/{Olympiodorus\_InMete.},
71/775/55/789/crim/{Ps.-Arist.\_DeSpiritu}, 198/830/182/818/gold/{DavidPhil.\_Prol.}, 313/836/268/851/olv/{Marin.Eloc.\_InEuclid.Dat.},
366/836/395/850/simp/{Simpl.\_InDeAn.}, 101/872/99/858/mag/{Sophonias\_InDeAn.}, 266/876/251/889/olv/{Anon.\_InCat.},
725/873/738/860/gal/{Gal.\_DeSophismatisSeuCaptionibusPenesDictionem}, 575/904/591/890/arist/{Arist.\_Parv.Nat.Mem.},
381/934/422/907/dolv/{Mich.Eph.\_InEN}, 336/958/340/937/simp/{Simpl.\_InCat.}, 548/915/534/928/mag/{Anon.\_InSE},
63/941/77/955/olv/{Them.\_InDeAn.}, 696/937/712/951/arist/{Arist.\_Soph.El.}, 362/983/301/975/amm/{Ammon.Phil.\_InPorph.},
404/988/426/975/elias/{EliasPhil.\_InPorph.}, 516/992/534/979/gold/{DavidPhil.\_InPorph.}, 635/988/693/985/alex/{Alex.Aphr.\_InSoph.El.},
108/976/123/990/olv/{Them.\_InPN}, 347/1016/333/1004/elias/{EliasPhil.\_InCat.}, 107/1021/86/1034/arist/{Arist.\_Parv.Nat.Somn.},
382/1056/397/1036/amm/{Ammon.Phil.\_InCat.}, 176/1063/203/1045/arist/{Arist.\_Parv.Nat.Sens.}, 267/1088/178/1079/philop/{Philoponus\_InGA},
274/1093/241/1107/dolv/{Mich.Eph.\_InPA}, 412/1080/358/1073/philop/{Philoponus\_InCat.}, 513/1082/495/1065/simp/{Simpl.\_InPh.},
569/1085/603/1071/olv/{Them.\_InPh.}, 535/1101/472/1107/tan/{Olympiodorus\_InCat.}, 431/1092/351/1131/philop/{Philoponus\_InDeAn.},
314/1110/175/1142/dolv/{Mich.Eph.\_InPN}, 428/1135/300/1170/amm/{Asclep.Phil.\_InMetaph.}, 504/1127/489/1141/simp/{Simpl.\_InCael.},
716/1089/773/1079/amm/{Ammon.Phil.\_InAPr.}, 634/1140/629/1121/philop/{Philoponus\_InPh.}, 558/1138/590/1155/philop/{Philoponus\_InGC},
653/1138/755/1154/philop/{Philoponus\_InAPo.}, 422/1145/457/1182/alex/{Alex.Aphr.\_InMetaph.}, 699/1159/711/1181/alex/{Alex.Aphr.\_InTop.},
626/1169/621/1193/olv/{Them.\_InAPo.}, 844/1166/866/1143/olv/{Them.\_InAPr.}, 859/1167/948/1184/philop/{Philoponus\_InAPr.},
854/1172/852/1216/alex/{Alex.Aphr.\_InAPr.}, 768/1179/813/1185/tan/{Anon.\_InAPII}, 542/1193/536/1217/sky/{Dexipp.\_InCat.},
1246/1183/1260/1168/lime/{Euc.\_Phaen.}, 1244/1185/1230/1197/lime/{Euc.\_Dem.}, 155/1176/142/1190/arist/{Arist.\_Parv.Nat.Long.},
548/1245/536/1258/salm/{Porph.\_Intr.}, 639/1262/623/1276/salm/{Steph.Phil.\_InInt.}, 819/1236/822/1255/arist/{Arist.\_Top.},
914/1272/928/1286/arist/{Arist.\_An.Post.An.Pr.}, 368/1284/353/1271/lpink/{Plotinus\_Enn.}, 275/1298/259/1286/alex/{Alex.Aphr.\_InSens.},
346/1300/360/1314/alex/{Alex.Aphr.\_DeAn.II}, 71/1329/57/1343/alex/{Alex.Aphr.\_InMete.}, 185/1361/200/1348/alex/{Alex.Aphr.\_DeAn.},
378/1377/393/1364/alex/{Alex.Aphr.\_Quaest.}, 506/1366/521/1354/arist/{Arist.\_Cat.}, 727/1372/711/1386/arist/{Arist.\_Int.},
40/1492/55/1505/arist/{Arist.\_Parv.Nat.Iuv.}, 598/1466/582/1480/arist/{Arist.\_Ph.}, 660/1493/646/1507/arist/{Arist.\_Ph.(TA)},
420/1579/433/1564/arist/{Arist.\_DeAn.}}
\def\hdngrk{
1285/604/1374/577/hdn/{Hdn.Gr.\_ΠερὶΤοῦΜὴΠάνταΤὰῬήματαΚλίνεσθαιΕἰςΠάνταςΤοὺςΧρόνους},
988/645/1013/610/hdn/{Hdn.Gr.\_ΠερὶἸλιακῆςΠροσῳδίας}, 971/626/825/620/hdn/{Hdn.Gr.\_ΠερὶὈδυσσειακῆςΠροσῳδίας},
1166/651/1187/607/hdn/{Hdn.Gr.\_ΠερὶΠαρωνύμων}, 1187/673/1270/637/hdn/{Hdn.Gr.\_ΠερὶΚλίσεωςὈνομάτων},
1200/692/1246/669/hdn/{Hdn.Gr.\_ΠερὶῬημάτων}, 1162/705/1062/683/hdn/{Hdn.Gr.\_ΠερὶὈνομάτων},
967/673/897/706/hdn/{Hdn.Gr.\_ΠερὶΜονήρουςΛέξεως}, 1289/684/1385/698/hdn/{Hdn.Gr.\_ΠερὶὈρθογραφίας},
1188/705/1162/725/hdn/{Hdn.Gr.\_ΠερὶΠαθῶν}, 1229/715/1310/740/hdn/{Hdn.Gr.\_ΠερὶΤῶνΕἰς<μι>},
996/807/960/821/hdn/{Hdn.Gr.\_ΠερὶΔιχρόνων}, 1186/816/1160/830/hdn/{Hdn.Gr.\_ΠερὶΣυντάξεωςΤῶνΣτοιχείων}}
\begin{scope}[shift={(4720,1960)},xscale=1.0714,yscale=0.9247]
\drawpts{z9}{\aristo}
\drawpts[font=\lblfont\grk]{z9g}{\hdngrk}
\end{scope}

%Libanius (lower left)
\def\libanius{
346/142/327/124/lib/{Lib.\_Oratio5}, 345/167/378/153/lib/{Lib.\_Oratio1}, 232/380/218/393/lib/{Lib.\_Declamatio13},
440/377/395/383/lib/{Lib.\_Declamatio23}, 507/354/494/367/lib/{Lib.\_Declamatio34}, 615/373/626/361/lib/{Lib.\_Declamatio45},
430/396/444/408/lib/{Lib.\_Declamatio32}, 568/381/554/394/lib/{Lib.\_Declamatio6}, 366/456/380/441/lib/{Lib.\_Declamatio21},
463/457/476/444/lib/{Lib.\_Declamatio33}, 145/484/158/471/lib/{Lib.\_Oratio38}, 331/468/319/481/lib/{Lib.\_Declamatio7},
754/457/741/471/lib/{Lib.\_Declamatio37}, 496/502/484/489/lib/{Lib.\_Declamatio39}, 287/525/300/511/lib/{Lib.\_Declamatio47},
602/528/588/514/lib/{Lib.\_Declamatio36}, 185/525/171/539/lib/{Lib.\_Oratio63}, 646/540/659/553/lib/{Lib.\_Declamatio48},
366/597/338/584/lib/{Lib.\_Declamatio41}, 420/612/433/600/lib/{Lib.\_Declamatio50}, 542/611/562/596/lib/{Lib.\_Declamatio8},
648/624/674/611/lib/{Lib.\_Declamatio49}, 88/628/73/642/lib/{Lib.\_Oratio39}, 205/645/206/631/lib/{Lib.\_Oratio28},
290/654/317/641/lib/{Lib.\_Declamatio9}, 463/632/520/628/lib/{Lib.\_Declamatio10}, 754/641/801/655/lib/{Lib.\_Declamatio27},
229/684/202/671/lib/{Lib.\_Oratio42}, 399/653/432/667/lib/{Lib.\_Declamatio31}, 483/662/538/681/lib/{Lib.\_Declamatio14},
684/690/697/678/lib/{Lib.\_Declamatio26}, 157/693/143/706/lib/{Lib.\_Oratio4}, 291/704/254/700/lib/{Lib.\_Oratio57},
354/698/338/684/lib/{Lib.\_Declamatio17}, 421/700/451/714/lib/{Lib.\_Declamatio42}, 530/704/559/717/lib/{Lib.\_Declamatio30},
135/733/97/740/lib/{Lib.\_Oratio52}, 451/731/436/746/lib/{Lib.\_Declamatio11}, 332/782/335/758/lib/{Lib.\_Oratio40},
495/745/529/766/lib/{Lib.\_Declamatio22}, 743/764/754/776/lib/{Lib.\_Declamatio28}, 60/792/71/778/lib/{Lib.\_Oratio47},
121/776/154/773/lib/{Lib.\_Oratio2}, 256/771/248/786/lib/{Lib.\_Oratio55}, 418/795/400/782/lib/{Lib.\_Declamatio38},
628/815/641/802/lib/{Lib.\_Declamatio19}, 98/831/112/818/lib/{Lib.\_Oratio50}, 183/839/193/826/lib/{Lib.\_Oratio53},
346/821/333/834/lib/{Lib.\_Declamatio1}, 383/810/414/825/lib/{Lib.\_Oratio37}, 525/854/538/842/lib/{Lib.\_Declamatio16},
846/859/857/846/lib/{Lib.\_Oratio11}, 256/883/233/869/lib/{Lib.\_Oratio62}, 445/862/457/875/lib/{Lib.\_Oratio32},
541/872/552/885/lib/{Lib.\_Declamatio15}, 843/860/830/873/lib/{Lib.\_Oratio61}, 271/910/290/898/lib/{Lib.\_Oratio58},
214/922/200/908/lib/{Lib.\_Oratio46}, 94/937/108/924/lib/{Lib.\_Oratio51}, 256/933/291/924/lib/{Lib.\_Oratio56},
374/908/386/921/lib/{Lib.\_Oratio54}, 469/910/456/922/lib/{Lib.\_Ep.}, 797/904/784/918/lib/{Lib.\_Oratio59},
649/924/634/937/lib/{Lib.\_Declamatio46}, 182/955/196/941/lib/{Lib.\_Oratio49}, 365/947/352/960/lib/{Lib.\_Oratio64},
619/952/604/967/lib/{Lib.\_Declamatio5}, 177/966/164/979/lib/{Lib.\_Oratio30}, 528/970/513/983/lib/{Lib.\_Declamatio35},
647/1007/659/994/lib/{Lib.\_Declamatio3}, 387/995/372/1009/lib/{Lib.\_Oratio48}, 592/1013/578/1026/lib/{Lib.\_Declamatio4},
821/1044/834/1031/lib/{Lib.\_Declamatio25}, 370/1050/357/1038/lib/{Lib.\_Oratio29}, 169/1067/146/1053/lib/{Lib.\_Oratio45},
245/1072/233/1060/lib/{Lib.\_Oratio3}, 430/1044/441/1057/lib/{Lib.\_Declamatio44}, 818/1048/805/1061/lib/{Lib.\_Declamatio24},
78/1080/41/1077/lib/{Lib.\_Oratio35}, 328/1070/312/1083/lib/{Lib.\_Oratio34}, 748/1127/701/1098/lib/{Lib.\_Declamatio18},
356/1124/368/1112/lib/{Lib.\_Oratio31}, 759/1150/794/1136/lib/{Lib.\_Declamatio20}, 268/1148/280/1136/lib/{Lib.\_Oratio27},
88/1186/74/1197/lib/{Lib.\_Oratio36}, 289/1195/301/1181/lib/{Lib.\_Oratio43}, 180/1208/166/1222/lib/{Lib.\_Oratio41},
272/1198/250/1212/lib/{Lib.\_Oratio26}, 337/1215/349/1229/lib/{Lib.\_Oratio33}, 336/1337/322/1350/lib/{Lib.\_Oratio10},
970/506/985/493/lib/{Lib.\_Char.}, 1042/299/1054/286/lib/{Lib.\_Oratio60}}
\def\lowmisc{
1210/19/1222/7/mag/{Ps.-Plut.\_Fluv.}, 1136/27/1122/41/teal/{Certamen\_HomeriEtHesiodi}, 918/135/904/123/red/{Polyaenus\_Exc.},
923/142/936/156/red/{Polyaenus\_Strat.}, 707/164/720/151/ora/{Alciphro\_Ep.}, 703/213/690/227/luc/{Luc.\_Dial.Mar.},
1222/150/1234/137/mauve/{Schol.Eur.\_InTro.}, 1394/196/1408/183/dpink/{Sindbad\_Hist.}, 1382/200/1368/214/dpink/{Sindbad\_Narr.},
1013/347/1000/362/dgrn/{VitaeAesopi\_VitaeAesopi}, 1149/492/1162/479/lxx/{OT\_LXX4Ma.}, 1106/603/1120/589/yel/{OraculaSibyllina\_Frag.},
1037/647/1007/638/lxx/{OT\_LXXPr.}, 1043/647/1073/633/lxx/{OT\_LXXJb.}, 1030/655/1044/669/mauve/{Agathias\_Epig.},
1097/755/1109/741/amm/{Max.\_Cat.}, 1091/757/1079/770/crim/{Babrius\_Fable}, 501/1139/488/1126/dgrn/{Antiph.\_DeCaedeHerodis},
556/1141/569/1155/mint/{Gorg.\_Pal.}, 970/1127/982/1115/lgrn/{Methodius\_DeLiberoArbitrio}, 603/1333/616/1321/lys/{Lys.\_InPhilonem},
530/1339/516/1353/gal/{Gal.\_DeOptimaDoctrina}, 164/1366/151/1379/hip/{Hippoc.\_DeArte}, 1531/1478/1498/1473/teal/{App.\_Sam.},
1536/1486/1502/1498/teal/{App.\_Gal.}}
\begin{scope}[shift={(1150,3250)},xscale=1.2117,yscale=0.9439]
\drawpts{z11b}{\libanius}
\drawpts{z11}{\lowmisc}
\end{scope}

%points whose labels cross the panels above
\def\crossing{
3129/1646/3114/1657/lgrn/{Sor.\_Gyn.}, 1963/1950/2017/1974/luc/{Luc.\_Phal.1Phal.2}, 1955/1930/1892/1993/luc/{Luc.\_Luct.},
3053/2101/3062/2089/philo/{Philo\_DeGigantibus}, 3061/2130/3040/2117/philo/{Philo\_DeSomniis(lib.I–ii)},
3206/2171/3151/2156/philo/{Philo\_DeMigrationeAbrahami}, 3112/2203/3141/2191/philo/{Philo\_QuisRerumDivinarumHeresSit},
3168/2241/3146/2228/philo/{Philo\_DeCherubim}, 2988/2265/3067/2272/philo/{Philo\_DeOpificioMundi},
2986/2330/3064/2315/philo/{Philo\_DeSpecialibusLegibus(lib.I–iv)}, 3188/2330/3131/2345/philo/{Philo\_DeSacrificiisAbelisEtCaini},
3193/2382/3147/2395/philo/{Philo\_DeConfusioneLinguarum}, 3079/2773/3092/2761/euseb/{Euseb.\_Laud.Const.},
3042/2998/3060/2987/euseb/{Euseb.\_Mart.Pal.}, 4733/2789/4716/2802/crim/{Heliod.Phil.\_InEN}, 4798/2773/4750/2777/olv/{Eustratius\_InEN},
4741/2897/4726/2886/arist/{Arist.\_Mete.}, 4841/2943/4767/2947/arist/{Arist.\_Parv.Nat.Insomn.}, 4733/3334/4719/3323/arist/{Arist.\_Resp.},
5157/3427/5141/3440/arist/{Arist.\_DeAn.(VD)}, 5071/3486/5054/3499/arist/{Arist.\_Eth.Nic.}, 4884/3543/4870/3556/arist/{Arist.\_Part.An.},
4873/3584/4857/3596/arist/{Arist.\_Pol.},
3807/3267/3740/3212/gal/{Gal.\_DeDifferentiisFebrium}, 3040/3944/3023/3957/amm/{Stadiasmus\_Stadiasmus}, 3030/4622/3012/4609/teal/{App.\_Hisp.}}
\drawpts{x}{\crossing}
\end{tikzpicture}
\end{document}
